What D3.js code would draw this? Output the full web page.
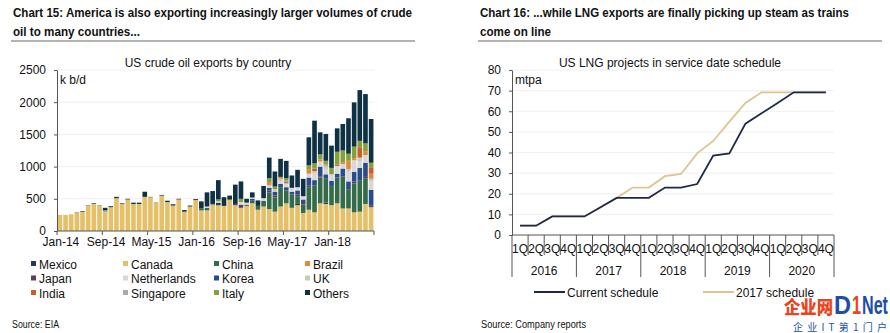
<!DOCTYPE html>
<html>
<head>
<meta charset="utf-8">
<script src="https://cdn.jsdelivr.net/npm/d3@7"></script>
<style>
  body { margin: 0; background: #fff; }
  svg text { font-family: "Liberation Sans", Arial, sans-serif; }
  svg text.cjk { font-family: "Noto Sans CJK SC", sans-serif; }
</style>
</head>
<body>
<svg id="viz" width="890" height="333" fill="#111"></svg>
<script>
// ---- Chart 15 data: US crude exports by country, k b/d, Jan-14 .. Aug-18
const months = d3.timeMonths(new Date(2014, 0, 1), new Date(2018, 8, 1));
const monthTicks = ["Jan-14", "Sep-14", "May-15", "Jan-16", "Sep-16", "May-17", "Jan-18"];

const canada = [250,250,260,285,300,395,420,395,290,370,
  510,420,490,420,420,530,525,435,550,450,
  395,490,300,380,480,320,320,410,400,390,
  480,400,360,390,430,330,380,340,300,380,
  430,360,400,280,330,290,430,420,400,430,
  350,350,290,300,420,370];
const mexico = [0,0,0,0,0,0,0,0,0,0, 0,0,0,0,0,0,0,0,0,0,
  0,0,0,0,0,0,0,0,40,0, 0,0,0,0,0,0,0,0,0,0,
  0,0,20,0,0,0,0,20,0,0, 0,0,0,0,0,0];
const china = [0,0,0,0,0,0,0,0,0,0, 0,0,0,0,0,0,0,0,0,0,
  0,0,0,0,0,30,40,10,0,0,
  10,0,0,20,40,60,90,260,220,300,
  200,210,120,130,350,420,400,380,300,400,
  500,300,450,480,400,0];
const japan = [0,0,0,0,0,0,0,0,0,0, 0,0,0,0,0,0,0,0,0,0,
  0,0,0,0,0,0,0,0,0,0,
  0,20,50,0,0,0,0,30,30,0,
  0,0,30,40,30,0,20,0,0,0,
  0,0,30,0,20,30];
const korea = [0,0,0,0,0,0,0,0,0,0, 0,0,0,0,0,0,0,0,0,0,
  0,0,0,0,0,0,0,0,0,0,
  0,0,0,0,30,0,0,40,60,50,
  50,40,60,40,120,80,150,60,80,60,
  120,120,150,200,220,240];
const netherlands = [0,0,0,0,0,0,0,0,0,0, 0,0,0,0,0,0,0,0,0,0,
  0,0,0,0,0,0,20,0,20,0,
  0,0,40,30,20,0,40,40,0,40,
  60,60,50,50,60,100,80,80,100,120,
  70,150,180,100,120,130];
const uk = [0,0,0,0,0,0,0,0,0,0, 0,0,0,0,0,0,0,0,0,0,
  0,0,0,0,0,0,0,0,0,0,
  0,0,0,0,0,0,0,0,40,40,
  0,0,0,0,0,40,0,50,0,0,
  0,40,0,60,0,40];
const brazil = [0,0,0,0,0,0,0,0,0,0, 0,0,0,0,0,0,0,0,0,0,
  0,0,0,0,0,0,0,0,0,0,
  0,0,0,0,0,0,0,50,0,30,
  0,0,0,0,70,0,30,0,0,0,
  30,130,30,0,60,80];
const india = [0,0,0,0,0,0,0,0,0,0, 0,0,0,0,0,0,0,0,0,0,
  0,0,0,0,0,0,0,0,0,0, 0,0,0,0,0,0,0,0,0,0,
  20,0,0,0,0,40,0,0,0,20,
  0,0,0,160,0,100];
const singapore = [0,0,0,0,0,0,0,0,30,0, 0,0,0,0,0,0,0,0,0,0,
  0,0,0,0,0,0,0,0,0,0, 0,0,0,0,0,0,0,0,0,0,
  20,0,0,0,0,0,0,20,0,0,
  0,0,0,0,0,0];
const italy = [0,0,0,0,0,0,0,0,0,0, 0,0,0,0,0,0,0,0,0,0,
  0,0,0,0,0,0,0,0,30,0,
  0,0,50,0,0,0,0,60,40,0,
  40,0,0,0,60,80,80,60,100,200,
  180,110,180,100,120,70];
const others = [0,0,0,5,10,5,10,5,40,15,
  20,10,10,20,20,80,5,5,10,20,
  20,10,25,15,15,110,220,200,300,135,
  60,300,270,60,80,85,190,320,234,280,
  269,192,270,270,435,663,342,417,346,364,
  411,550,687,788,766,679];

const countries = ["Mexico", "Canada", "China", "Brazil", "Japan", "Netherlands",
  "Korea", "UK", "India", "Singapore", "Italy", "Others"];
const countryValues = { Mexico: mexico, Canada: canada, China: china, Brazil: brazil,
  Japan: japan, Netherlands: netherlands, Korea: korea, UK: uk, India: india,
  Singapore: singapore, Italy: italy, Others: others };
const countryColors = ["#1f3a5b", "#e6c068", "#346b48", "#e38a3a", "#5d3d63", "#d8d8d8",
  "#2b4c8c", "#c8cdb8", "#c65f2a", "#a7abad", "#83a03c", "#0e3143"];
// bottom-to-top order of the stack
const stackOrder = ["Canada", "Mexico", "China", "Japan", "Korea", "Netherlands", "UK",
  "Brazil", "India", "Singapore", "Italy", "Others"];

// ---- Chart 16 data: US LNG capacity in service, mtpa
const years = ["2016", "2017", "2018", "2019", "2020"];
const quarters = ["1Q", "2Q", "3Q", "4Q"];
const currentSchedule = [4.5,4.5,9,9,9,13.5,18,18,18,23,23,24.7,38.5,39.6,54,59,64,69.2,69.2,69.2];
const schedule2017 = [4.5,4.5,9,9,9,13.5,18,23,23,28.5,29.6,39.6,45.6,55,64,69.2,69.2,69.2,69.2,69.2];

const svg = d3.select("#viz");
const color = d3.scaleOrdinal(countries, countryColors);

// ---------- headers
function header(x0, x1, lines) {
  lines.forEach((l, i) => {
    svg.append("text")
      .attr("x", x0 + 2).attr("y", 17 + i * 19)
      .attr("font-size", 13.5).attr("font-weight", "bold")
      .attr("textLength", l.w).attr("lengthAdjust", "spacingAndGlyphs")
      .text(l.t);
  });
  svg.append("line")
    .attr("x1", x0).attr("x2", x1).attr("y1", 41).attr("y2", 41)
    .attr("stroke", "#9a9a9a").attr("stroke-width", 1.5);
}
header(11, 415, [
  { t: "Chart 15: America is also exporting increasingly larger volumes of crude", w: 399 },
  { t: "oil to many countries...", w: 127 }
]);
header(478, 882, [
  { t: "Chart 16: ...while LNG exports are finally picking up steam as trains", w: 369 },
  { t: "come on line", w: 71 }
]);

// ---------- Chart 15
const x = d3.scaleBand().domain(months).range([57, 374]).paddingInner(0.18).paddingOuter(0.1);
const y = d3.scaleLinear().domain([0, 2500]).range([231, 70]);

const g1 = svg.append("g");
g1.append("text").attr("x", 208).attr("y", 67).attr("text-anchor", "middle")
  .attr("font-size", 12).text("US crude oil exports by country");

g1.append("g").selectAll("line").data(y.ticks(5).slice(1)).join("line")
  .attr("x1", 57).attr("x2", 374).attr("y1", d => y(d)).attr("y2", d => y(d))
  .attr("stroke", "#f0f0f0");

const rows = months.map((m, i) => {
  const r = { month: m };
  countries.forEach(c => { r[c] = countryValues[c][i]; });
  return r;
});
const stacked = d3.stack().keys(stackOrder)(rows);

g1.append("g").selectAll("g").data(stacked).join("g")
  .attr("fill", d => color(d.key))
  .selectAll("rect").data(d => d).join("rect")
  .attr("x", d => x(d.data.month))
  .attr("width", x.bandwidth())
  .attr("y", d => y(d[1]))
  .attr("height", d => y(d[0]) - y(d[1]));

const yAxis1 = g1.append("g").attr("transform", "translate(57,0)")
  .call(d3.axisLeft(y).tickValues([0, 500, 1000, 1500, 2000, 2500]).tickFormat(d3.format("d"))
    .tickSize(3).tickSizeOuter(0).tickPadding(8));
yAxis1.selectAll("text").attr("font-size", 12).attr("fill", "#111");
yAxis1.selectAll("path, line").attr("stroke", "#555");
g1.append("text").attr("x", 60).attr("y", 84).attr("font-size", 12).text("k b/d");

// x axis with ticks between categories every 8 months
const gap = (x.step() - x.bandwidth()) / 2;
const tickIdx = d3.range(0, months.length + 1, 8);
g1.append("line").attr("x1", 57).attr("x2", 374).attr("y1", 231).attr("y2", 231).attr("stroke", "#555");
g1.append("g").selectAll("line").data(tickIdx).join("line")
  .attr("x1", i => i < months.length ? x(months[i]) - gap : 374)
  .attr("x2", i => i < months.length ? x(months[i]) - gap : 374)
  .attr("y1", 231).attr("y2", 235).attr("stroke", "#555");
g1.append("g").selectAll("text").data(monthTicks).join("text")
  .attr("x", (t, k) => x(months[k * 8]) + x.bandwidth() / 2 + 1)
  .attr("y", 246).attr("text-anchor", "middle").attr("font-size", 12)
  .text(t => t);

// legend
const legCols = [31, 123, 214, 305];
const leg = g1.append("g").selectAll("g").data(countries).join("g")
  .attr("transform", (d, i) => `translate(${legCols[i % 4]},${264 + Math.floor(i / 4) * 14.5})`);
leg.append("rect").attr("x", 0).attr("y", -3).attr("width", 5).attr("height", 5).attr("fill", d => color(d));
leg.append("text").attr("x", 8).attr("y", 4.5).attr("font-size", 12).text(d => d);

svg.append("text").attr("x", 12).attr("y", 328).attr("font-size", 10)
  .attr("textLength", 47).attr("lengthAdjust", "spacingAndGlyphs").text("Source: EIA");

// ---------- Chart 16
const qLabels = years.flatMap(yr => quarters.map(q => `${q}${yr}`));
const xq = d3.scaleBand().domain(qLabels).range([512, 834]);
const y2 = d3.scaleLinear().domain([0, 80]).range([235, 70]);

const g2 = svg.append("g");
g2.append("text").attr("x", 670).attr("y", 67).attr("text-anchor", "middle")
  .attr("font-size", 12).text("US LNG projects in service date schedule");

g2.append("g").selectAll("line").data(y2.ticks(8).slice(1)).join("line")
  .attr("x1", 512).attr("x2", 834).attr("y1", d => y2(d)).attr("y2", d => y2(d))
  .attr("stroke", "#f0f0f0");

const yAxis2 = g2.append("g").attr("transform", "translate(512,0)")
  .call(d3.axisLeft(y2).ticks(8).tickSize(3).tickSizeOuter(0).tickPadding(8));
yAxis2.selectAll("text").attr("font-size", 12).attr("fill", "#111");
yAxis2.selectAll("path, line").attr("stroke", "#555");
g2.append("text").attr("x", 515).attr("y", 84).attr("font-size", 12).text("mtpa");

g2.append("line").attr("x1", 512).attr("x2", 834).attr("y1", 235).attr("y2", 235).attr("stroke", "#555");
g2.append("g").selectAll("line").data(qLabels).join("line")
  .attr("x1", d => xq(d)).attr("x2", d => xq(d))
  .attr("y1", 235).attr("y2", (d, i) => i % 4 === 0 ? 277 : 255)
  .attr("stroke", "#555");
g2.append("line").attr("x1", 834).attr("x2", 834).attr("y1", 235).attr("y2", 277).attr("stroke", "#555");
g2.append("g").selectAll("text").data(qLabels).join("text")
  .attr("x", d => xq(d) + xq.bandwidth() / 2).attr("y", 253)
  .attr("text-anchor", "middle").attr("font-size", 12)
  .text(d => d.slice(0, 2));
g2.append("g").selectAll("text").data(years).join("text")
  .attr("x", (d, i) => xq(`1Q${d}`) + xq.bandwidth() * 2).attr("y", 275)
  .attr("text-anchor", "middle").attr("font-size", 12).text(d => d);

const line = d3.line().x((d, i) => xq(qLabels[i]) + xq.bandwidth() / 2).y(d => y2(d));
g2.append("path").datum(schedule2017).attr("d", line)
  .attr("fill", "none").attr("stroke", "#dcc590").attr("stroke-width", 1.8);
g2.append("path").datum(currentSchedule).attr("d", line)
  .attr("fill", "none").attr("stroke", "#1c2a48").attr("stroke-width", 1.8);

// line legend
const lineLeg = [
  { name: "Current schedule", color: "#1c2a48", x: 534 },
  { name: "2017 schedule", color: "#dcc590", x: 703 }
];
const ll = g2.append("g").selectAll("g").data(lineLeg).join("g")
  .attr("transform", d => `translate(${d.x},292)`);
ll.append("line").attr("x1", 0).attr("x2", 31).attr("stroke", d => d.color).attr("stroke-width", 2);
ll.append("text").attr("x", 33).attr("y", 4.5).attr("font-size", 12).text(d => d.name);

svg.append("text").attr("x", 481).attr("y", 328).attr("font-size", 10)
  .attr("textLength", 105).attr("lengthAdjust", "spacingAndGlyphs").text("Source: Company reports");

// watermark
const wm = svg.append("g");
wm.append("text").attr("class", "cjk").attr("x", 784).attr("y", 314)
  .attr("font-size", 18).attr("font-weight", 900)
  .attr("fill", "#e8461e")
  .attr("textLength", 49).attr("lengthAdjust", "spacingAndGlyphs").text("企业网");
const d1Parts = [
  { t: "D", x: 834, w: 17, c: "#1d4fa8" },
  { t: "1", x: 852, w: 9, c: "#e8461e" },
  { t: "Net", x: 862, w: 26, c: "#1d4fa8" }
];
wm.selectAll(".d1").data(d1Parts).join("text").attr("class", "d1")
  .attr("x", d => d.x).attr("y", 314)
  .attr("font-size", 25).attr("font-weight", "bold").attr("fill", d => d.c)
  .attr("textLength", d => d.w).attr("lengthAdjust", "spacingAndGlyphs")
  .text(d => d.t);
wm.append("text").attr("class", "cjk").attr("x", 793).attr("y", 331)
  .attr("font-size", 10)
  .attr("fill", "#1d4fa8").attr("textLength", 94).attr("lengthAdjust", "spacing")
  .text("企业IT第1门户");
</script>
</body>
</html>
